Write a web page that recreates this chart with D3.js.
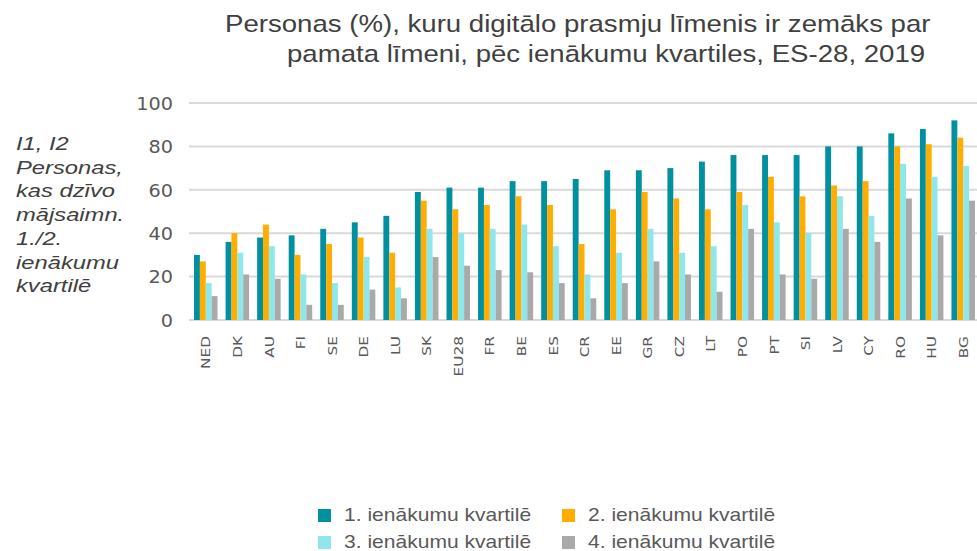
<!DOCTYPE html>
<html>
<head>
<meta charset="utf-8">
<script src="https://cdn.jsdelivr.net/npm/d3@7"></script>
<style>
  html, body { margin: 0; padding: 0; background: #ffffff; }
  svg { display: block; }
</style>
</head>
<body>
<svg id="chart" width="977" height="551"></svg>
<script>
const categories = ["NED","DK","AU","FI","SE","DE","LU","SK","EU28","FR","BE","ES","CR","EE","GR","CZ","LT","PO","PT","SI","LV","CY","RO","HU","BG"];
const seriesNames = ["1. ienākumu kvartilē","2. ienākumu kvartilē","3. ienākumu kvartilē","4. ienākumu kvartilē"];
const q1 = [30,36,38,39,42,45,48,59,61,61,64,64,65,69,69,70,73,76,76,76,80,80,86,88,92];
const q2 = [27,40,44,30,35,38,31,55,51,53,57,53,35,51,59,56,51,59,66,57,62,64,80,81,84];
const q3 = [17,31,34,21,17,29,15,42,40,42,44,34,21,31,42,31,34,53,45,40,57,48,72,66,71];
const q4 = [11,21,19,7,7,14,10,29,25,23,22,17,10,17,27,21,13,42,21,19,42,36,56,39,55];
const yTicks = [0,20,40,60,80,100];
const titleLines = ["Personas (%), kuru digitālo prasmju līmenis ir zemāks par","pamata līmeni, pēc ienākumu kvartiles, ES-28, 2019"];
const sideLabel = ["I1, I2","Personas,","kas dzīvo","mājsaimn.","1./2.","ienākumu","kvartilē"];
const colors = ["#00909f","#ffad00","#8ee7eb","#a9a9a9"];

const series = [q1,q2,q3,q4];
const svg = d3.select("#chart");

const x = d3.scaleBand().domain(categories).range([190, 979]).paddingInner(0.255).paddingOuter(0.1275);
const xs = d3.scaleBand().domain(d3.range(4)).range([0, x.bandwidth()]);
const y = d3.scaleLinear().domain([0,100]).range([320, 103]);

// gridlines
svg.append("g").selectAll("line").data(yTicks).join("line")
  .attr("x1", 189).attr("x2", 977)
  .attr("y1", d => y(d)).attr("y2", d => y(d))
  .attr("stroke", "#d9d9d9").attr("stroke-width", 2);

// y tick labels
svg.append("g").selectAll("text").data(yTicks).join("text")
  .attr("transform", d => `translate(173,${y(d) + 2}) scale(1.1,1)`)
  .attr("text-anchor", "end").attr("dominant-baseline", "middle")
  .attr("font-family", "DejaVu Sans, Verdana, sans-serif").attr("font-size", 17.5)
  .attr("fill", "#595959").text(d => d);

// bars
const groups = svg.append("g").selectAll("g").data(categories).join("g")
  .attr("transform", d => `translate(${x(d)},0)`);
groups.selectAll("rect").data((c, i) => series.map((s, k) => ({k, v: s[i]}))).join("rect")
  .attr("x", d => xs(d.k)).attr("width", xs.bandwidth())
  .attr("y", d => y(d.v)).attr("height", d => y(0) - y(d.v))
  .attr("fill", d => colors[d.k]);

// x labels
svg.append("g").selectAll("text").data(categories).join("text")
  .attr("transform", d => `translate(${x(d) + x.bandwidth()/2 + 1},336) rotate(-90) scale(1.18,1)`)
  .attr("text-anchor", "end").attr("dominant-baseline", "middle")
  .attr("font-family", "DejaVu Sans, Verdana, sans-serif").attr("font-size", 13)
  .attr("fill", "#595959").text(d => d);

// title
svg.append("g").selectAll("text").data(titleLines).join("text")
  .attr("transform", (d, i) => `translate(${i === 0 ? 225 : 287},${32 + i * 29.5}) scale(1.15,1)`)
  .attr("font-family", "Liberation Sans, Arial, sans-serif").attr("font-size", 24)
  .attr("fill", "#404040").text(d => d);

// side label
svg.append("g").selectAll("text").data(sideLabel).join("text")
  .attr("transform", (d, i) => `translate(16,${145 + i * 23.7}) scale(1.25,1)`)
  .attr("dominant-baseline", "middle")
  .attr("font-family", "Liberation Sans, Arial, sans-serif").attr("font-size", 19)
  .attr("font-style", "italic")
  .attr("fill", "#404040").text(d => d);

// legend
const legPos = [[318,516],[562,516],[318,543],[562,543]];
const leg = svg.append("g").selectAll("g").data(seriesNames).join("g")
  .attr("transform", (d, i) => `translate(${legPos[i][0]},${legPos[i][1]})`);
leg.append("rect").attr("x", 0).attr("y", -7).attr("width", 13).attr("height", 13)
  .attr("fill", (d, i) => colors[i]);
leg.append("text").attr("transform", "translate(26,0) scale(1.17,1)")
  .attr("dominant-baseline", "middle")
  .attr("font-family", "Liberation Sans, Arial, sans-serif").attr("font-size", 18)
  .attr("fill", "#595959").text(d => d);
</script>
</body>
</html>
